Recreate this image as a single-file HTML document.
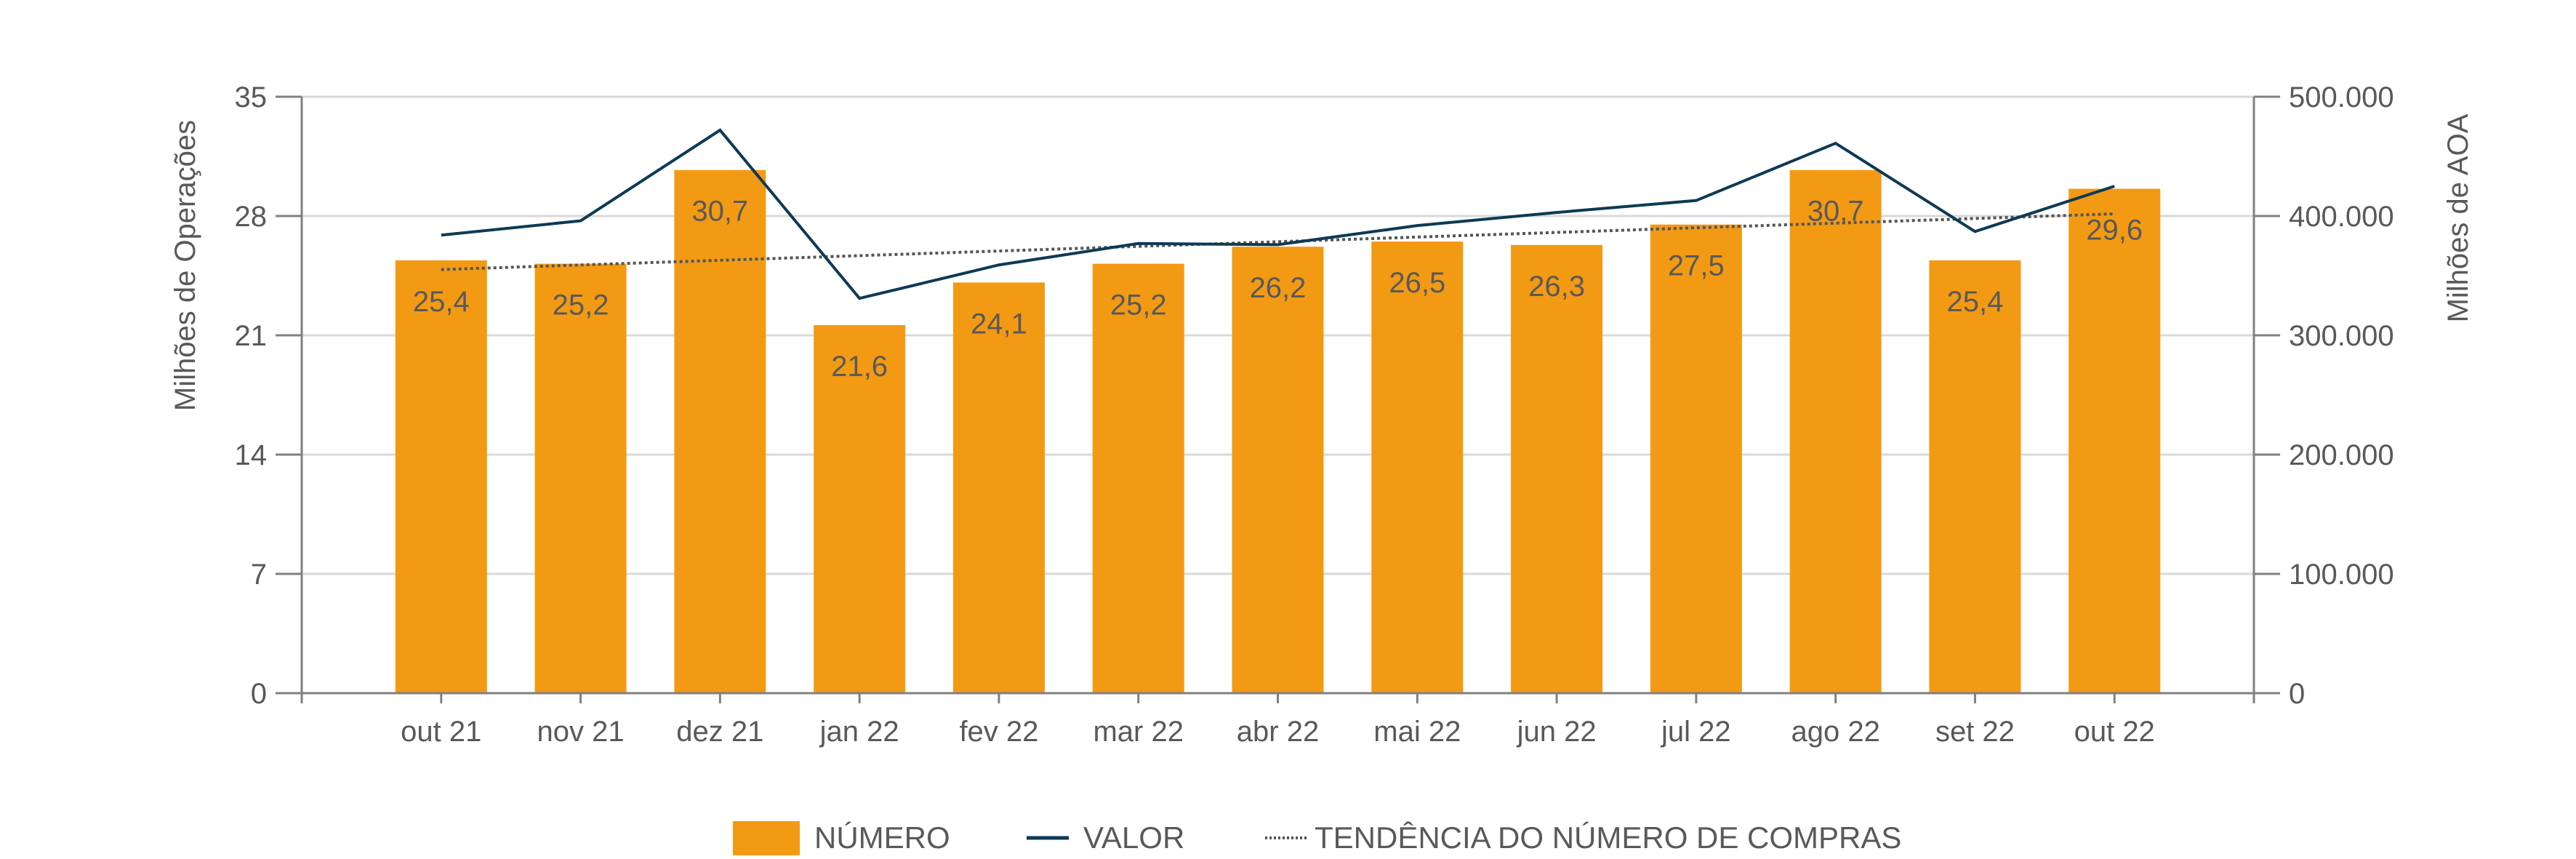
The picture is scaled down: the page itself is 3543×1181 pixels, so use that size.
<!DOCTYPE html>
<html><head><meta charset="utf-8"><style>
html,body{margin:0;padding:0;background:#fff;}
svg{display:block;font-family:"Liberation Sans",sans-serif;}
</style></head><body>
<svg id="chart" width="3543" height="1181" viewBox="0 0 3543 1181" xmlns="http://www.w3.org/2000/svg">
<g id="grid"></g>
<g id="bars"></g>
<g id="lines"></g>
<g id="axes"></g>
<text transform="translate(268,365) rotate(-90)" text-anchor="middle" font-size="40" fill="#595959">Milhões de Operações</text>
<text transform="translate(3394,300) rotate(-90)" text-anchor="middle" font-size="40" fill="#595959">Milhões de AOA</text>
<g>
<rect x="1008" y="1129" width="92" height="47" fill="#F39A14"/>
<text x="1120" y="1166" font-size="42" fill="#595959">NÚMERO</text>
<line x1="1412" y1="1152" x2="1470" y2="1152" stroke="#0E3A55" stroke-width="5"/>
<text x="1490" y="1166" font-size="42" fill="#595959">VALOR</text>
<line x1="1740" y1="1152" x2="1797" y2="1152" stroke="#555" stroke-width="4" stroke-dasharray="3,3"/>
<text x="1808" y="1166" font-size="42" fill="#595959">TENDÊNCIA DO NÚMERO DE COMPRAS</text>
</g>
</svg>
<script>
const categories = ["out 21","nov 21","dez 21","jan 22","fev 22","mar 22","abr 22","mai 22","jun 22","jul 22","ago 22","set 22","out 22"];
const numero = [25.4,25.2,30.7,21.6,24.1,25.2,26.2,26.5,26.3,27.5,30.7,25.4,29.6];
const valor = [384000,396000,472000,331000,359000,377000,376000,392000,403000,413000,461000,387000,425000];
const leftTicks = [0,7,14,21,28,35];
const rightTicks = [0,100000,200000,300000,400000,500000];
const rightTickLabels = ["0","100.000","200.000","300.000","400.000","500.000"];

const NS="http://www.w3.org/2000/svg";
const X0=415, X1=3100, Y0=953, Y1=133;
const band=(X1-X0)/(categories.length+1);
const xC=i=>X0+band*(i+1);
const yL=v=>Y0-(v/35)*(Y0-Y1);
const yR=v=>Y0-(v/500000)*(Y0-Y1);
function mk(tag,attrs,parent){const e=document.createElementNS(NS,tag);for(const k in attrs)e.setAttribute(k,attrs[k]);parent.appendChild(e);return e;}
const grid=document.getElementById('grid'),bars=document.getElementById('bars'),lines=document.getElementById('lines'),axes=document.getElementById('axes');

leftTicks.forEach((t,i)=>{
  const y=yL(t);
  if(t>0){const g=mk('line',{x1:X0,x2:X1,y1:y,y2:y,stroke:'#D9D9D9','stroke-width':3},grid);
  
  }
  const tk=mk('line',{x1:X0-36,x2:X0,y1:y,y2:y,stroke:'#808080','stroke-width':3},axes);
  
  
  const tx=mk('text',{x:X0-48,y:y+14,'text-anchor':'end','font-size':40,fill:'#595959'},axes);
  
  
  tx.textContent=t;
});
rightTicks.forEach((t,i)=>{
  const y=yR(t);
  const tk=mk('line',{x1:X1,x2:X1+36,y1:y,y2:y,stroke:'#808080','stroke-width':3},axes);
  
  
  const tx=mk('text',{x:X1+48,y:y+14,'font-size':40,fill:'#595959'},axes);
  
  
  tx.textContent=rightTickLabels[i];
});
const bw=126;
numero.forEach((v,i)=>{
  const x=xC(i);
  const r=mk('rect',{x:x-bw/2,y:yL(v),width:bw,height:Y0-yL(v),fill:'#F39A14'},bars);
  
  
  const t=mk('text',{x:x,y:yL(v)+70,'text-anchor':'middle','font-size':40,fill:'#595959'},lines);
  
  
  t.textContent=String(v).replace('.',',');
  const c=mk('text',{x:x,y:Y0+66,'text-anchor':'middle','font-size':40,fill:'#595959'},axes);
  
  
  c.textContent=categories[i];
  const tk=mk('line',{x1:x,x2:x,y1:Y0,y2:Y0+14,stroke:'#808080','stroke-width':3},axes);
  
  
});
// trend (linear regression of numero)
const n=numero.length, mx=(n-1)/2, my=numero.reduce((a,b)=>a+b,0)/n;
let sxy=0,sxx=0;numero.forEach((v,i)=>{sxy+=(i-mx)*(v-my);sxx+=(i-mx)*(i-mx);});
const sl=sxy/sxx, ic=my-sl*mx;
const tr=mk('line',{x1:xC(0),y1:yL(ic),x2:xC(n-1),y2:yL(ic+sl*(n-1)),stroke:'#555','stroke-width':4,'stroke-dasharray':'4,4'},lines);


const vl=mk('polyline',{points:valor.map((v,i)=>xC(i)+','+yR(v)).join(' '),fill:'none',stroke:'#0E3A55','stroke-width':4},lines);


// axes lines
[[X0,Y1,X0,Y0],[X1,Y1,X1,Y0],[X0,Y0,X1,Y0]].forEach((a,i)=>{
  const l=mk('line',{x1:a[0],y1:a[1],x2:a[2],y2:a[3],stroke:'#808080','stroke-width':3},axes);
  
  
});
[X0,X1].forEach(x=>{const tk=mk('line',{x1:x,x2:x,y1:Y0,y2:Y0+14,stroke:'#808080','stroke-width':3},axes);
  
  });
</script>
</body></html>
